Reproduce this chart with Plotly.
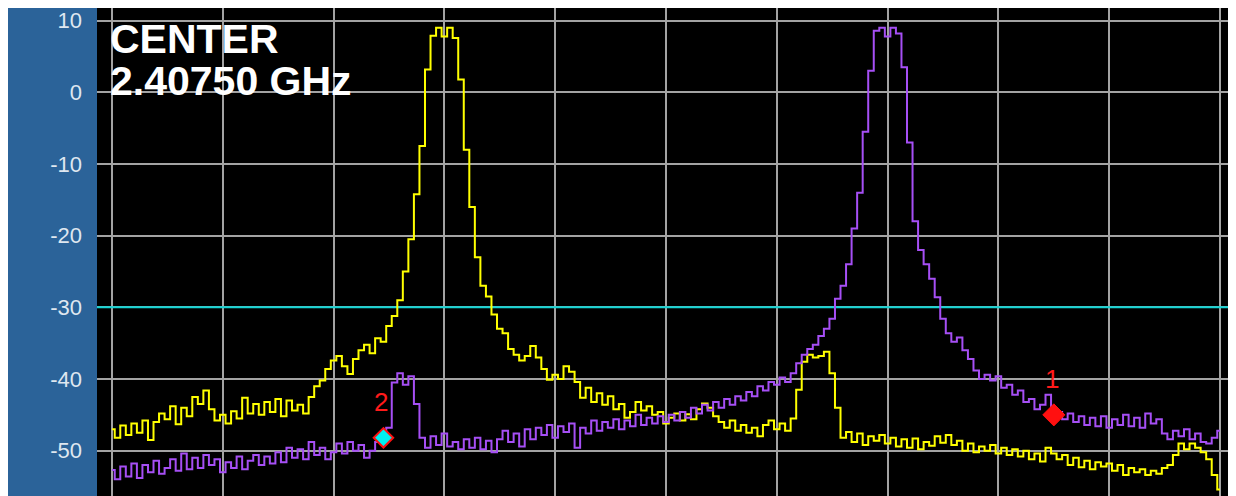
import plotly.graph_objects as go

# ---- data (x in screen divisions, y in dBm) ----
x_step = 0.05
n_points = 201
x_div = [round(i * x_step, 2) for i in range(n_points)]

trace_yellow = [
    -47.0, -48.2, -46.5, -47.8, -46.2, -47.5, -45.8, -48.5, -46.0, -44.8,
    -45.6, -43.8, -46.3, -44.0, -45.2, -42.5, -43.5, -41.6, -44.2, -45.8,
    -45.0, -46.2, -44.5, -45.5, -42.6, -44.8, -43.5, -45.0, -43.2, -44.6,
    -42.8, -45.2, -43.0, -44.4, -43.6, -44.8, -42.5, -41.0, -40.2, -38.6,
    -37.4, -36.8, -38.2, -39.3, -37.2, -36.0, -35.2, -36.4, -34.3, -34.8,
    -32.6, -31.2, -29.0, -25.0, -20.5, -14.2, -7.5, 3.2, 7.9, 9.0,
    7.8, 9.0, 7.6, 1.8, -8.0, -16.0, -23.0, -27.0, -28.5, -31.0,
    -33.0, -33.6, -35.8, -36.6, -37.4, -36.8, -35.4, -37.0, -38.6, -40.1,
    -39.4, -40.0, -38.2, -39.0, -40.4, -42.6, -41.2, -43.2, -42.0, -43.6,
    -42.4, -44.2, -43.5, -45.4, -44.6, -43.2, -44.4, -43.8, -45.0, -44.6,
    -46.2, -45.4, -44.8, -45.8, -44.9, -45.6, -44.2, -43.4, -44.0, -45.2,
    -46.0, -46.8, -45.8, -47.2, -46.4, -47.5, -46.8, -48.0, -46.4, -45.8,
    -47.0, -46.2, -47.2, -45.5, -41.5, -37.6, -36.6, -37.0, -36.8, -36.2,
    -39.2, -44.0, -48.2, -47.4, -48.8, -47.6, -49.2, -48.0, -48.6, -47.8,
    -49.0, -48.2, -49.4, -48.4, -49.6, -48.3, -49.8, -48.8, -49.3, -48.0,
    -48.9, -47.8, -49.2, -48.6, -50.0, -49.0, -50.2, -49.4, -50.0, -49.2,
    -50.4, -49.6, -50.6, -49.8, -50.8, -50.0, -51.2, -50.4, -51.5, -49.6,
    -50.4, -51.2, -50.6, -52.0, -51.0, -52.3, -51.4, -52.6, -51.6, -52.2,
    -51.8, -52.8, -52.0, -53.4, -52.4, -53.0, -52.6, -53.4, -52.8, -53.2,
    -52.4, -52.0, -50.6, -49.0, -49.8, -49.0, -49.6, -50.2, -51.2, -53.4,
    -55.4,
]

trace_purple = [
    -52.7, -54.0, -52.2, -53.6, -51.8, -53.8, -52.0, -53.0, -51.4, -53.2,
    -52.4, -51.2, -52.8, -50.4, -52.6, -51.0, -52.4, -50.6, -52.0, -51.2,
    -53.0, -51.6, -52.4, -50.8, -52.6, -51.4, -50.6, -52.0, -50.8, -51.8,
    -50.2, -51.6, -49.6, -51.0, -49.8, -51.2, -48.8, -50.6, -49.6, -51.2,
    -50.2, -49.0, -50.4, -48.8, -50.0, -49.2, -51.0, -50.0, -48.8, -48.2,
    -46.8, -40.5, -39.2, -40.8, -39.6, -43.5, -48.2, -49.6, -48.0, -49.2,
    -47.6, -49.4, -48.8, -49.8, -48.4, -49.6, -48.2, -49.8, -48.6, -50.2,
    -48.4, -47.2, -48.8, -47.6, -49.4, -47.0, -48.4, -46.8, -47.8, -46.4,
    -48.2, -46.6, -47.4, -46.2, -49.6, -46.8, -47.6, -45.8, -47.2, -46.0,
    -46.8, -45.6, -47.0, -45.8, -46.6, -45.0, -46.4, -45.4, -46.2, -45.2,
    -46.0, -45.0, -45.8, -44.6, -45.4, -44.0, -44.8, -43.6, -44.4, -43.2,
    -44.0, -42.8, -43.6, -42.4, -43.0, -41.8, -42.4, -41.0, -41.6, -40.4,
    -40.8, -39.8, -40.4, -39.2, -37.8, -36.6, -35.8, -35.2, -34.0, -33.0,
    -31.6, -28.8, -27.0, -24.0, -19.0, -14.0, -5.5, 3.0, 8.6, 9.0,
    7.8, 9.0, 8.2, 3.5, -7.0, -18.0, -22.0, -24.0, -26.0, -28.6,
    -31.6, -33.6, -34.8, -34.2, -36.0, -37.2, -38.8, -40.0, -39.4, -40.2,
    -39.6, -41.2, -40.8, -42.2, -41.6, -43.2, -42.8, -44.2, -43.6, -42.2,
    -45.0, -44.6, -45.6, -44.8, -46.0, -45.2, -46.4, -45.4, -46.6, -45.2,
    -46.8, -45.6, -46.4, -45.0, -46.6, -45.4, -46.8, -44.8, -46.2, -45.6,
    -47.6, -48.4, -47.2, -48.0, -47.0, -48.4, -47.6, -48.8, -49.0, -48.2,
    -47.2,
]

threshold_db = -30
y_ticks = [10, 0, -10, -20, -30, -40, -50]
x_grid = [0, 1, 2, 3, 4, 5, 6, 7, 8, 9, 10]

marker_labels = ["1", "2"]
marker_x = [8.50, 2.45]
marker_y = [-45.0, -48.2]

center_title = "CENTER"
center_freq = "2.40750 GHz"

x_range = [-0.135, 10.09]
y_range = [-56.32, 11.77]

# ---- figure ----
fig = go.Figure()

fig.add_trace(go.Scatter(
    x=x_range, y=[threshold_db, threshold_db], mode="lines",
    line=dict(color="#12d6d6", width=2), hoverinfo="skip", showlegend=False,
))
fig.add_trace(go.Scatter(
    x=x_div, y=trace_yellow, mode="lines",
    line=dict(color="#ffff00", width=2, shape="hvh"), showlegend=False,
))
fig.add_trace(go.Scatter(
    x=x_div, y=trace_purple, mode="lines",
    line=dict(color="#a64ff5", width=2, shape="hvh"), showlegend=False,
))
# marker 1 (red) and marker 2 (cyan, red outline)
fig.add_trace(go.Scatter(
    x=[marker_x[0]], y=[marker_y[0]], mode="markers",
    marker=dict(symbol="diamond", size=17, color="#ff1010",
                line=dict(color="#ff1010", width=1)),
    showlegend=False,
))
fig.add_trace(go.Scatter(
    x=[marker_x[1]], y=[marker_y[1]], mode="markers",
    marker=dict(symbol="diamond", size=15, color="#00f0f0",
                line=dict(color="#ff1010", width=2)),
    showlegend=False,
))

for lab, mx, my in zip(marker_labels, marker_x, marker_y):
    fig.add_annotation(
        x=mx, y=my, xref="x", yref="y", text=lab, showarrow=False,
        xshift=-2, yshift=36,
        font=dict(family="Liberation Sans, Arial", size=26, color="#ff1a1a"),
    )

fig.add_annotation(
    x=0.0097, y=0.9365, xref="paper", yref="paper", text=center_title,
    showarrow=False, xanchor="left", yanchor="middle",
    font=dict(family="Liberation Sans, Arial", size=41, color="white", weight="bold"),
)
fig.add_annotation(
    x=0.0097, y=0.850, xref="paper", yref="paper", text=center_freq,
    showarrow=False, xanchor="left", yanchor="middle",
    font=dict(family="Liberation Sans, Arial", size=41, color="white", weight="bold"),
)

# left blue panel and right thin strip
fig.add_shape(type="rect", xref="paper", yref="paper",
              x0=-0.08, x1=0, y0=-0.02, y1=1, layer="below",
              fillcolor="#2b6399", line=dict(width=0))
fig.add_shape(type="rect", xref="paper", yref="paper",
              x0=1.0009, x1=1.0035, y0=-0.02, y1=1, layer="below",
              fillcolor="#3a86d6", line=dict(width=0))

fig.update_layout(
    width=1236, height=496,
    margin=dict(l=89, r=14, t=0, b=8, pad=0),
    paper_bgcolor="white", plot_bgcolor="black",
    showlegend=False,
)
fig.update_xaxes(
    range=x_range, tickvals=x_grid, showticklabels=False,
    showgrid=True, gridcolor="#a3a3a3", gridwidth=2,
    zeroline=False, showline=False, ticks="", automargin=False,
)
fig.update_yaxes(
    range=y_range, tickvals=y_ticks, ticktext=[str(v) for v in y_ticks],
    showgrid=True, gridcolor="#a3a3a3", gridwidth=2,
    zeroline=False, showline=False, ticks="", ticklabelstandoff=14,
    automargin=False,
    tickfont=dict(family="Liberation Sans, Arial", size=22, color="#dfe7f0"),
)

fig.write_html("out.html")
